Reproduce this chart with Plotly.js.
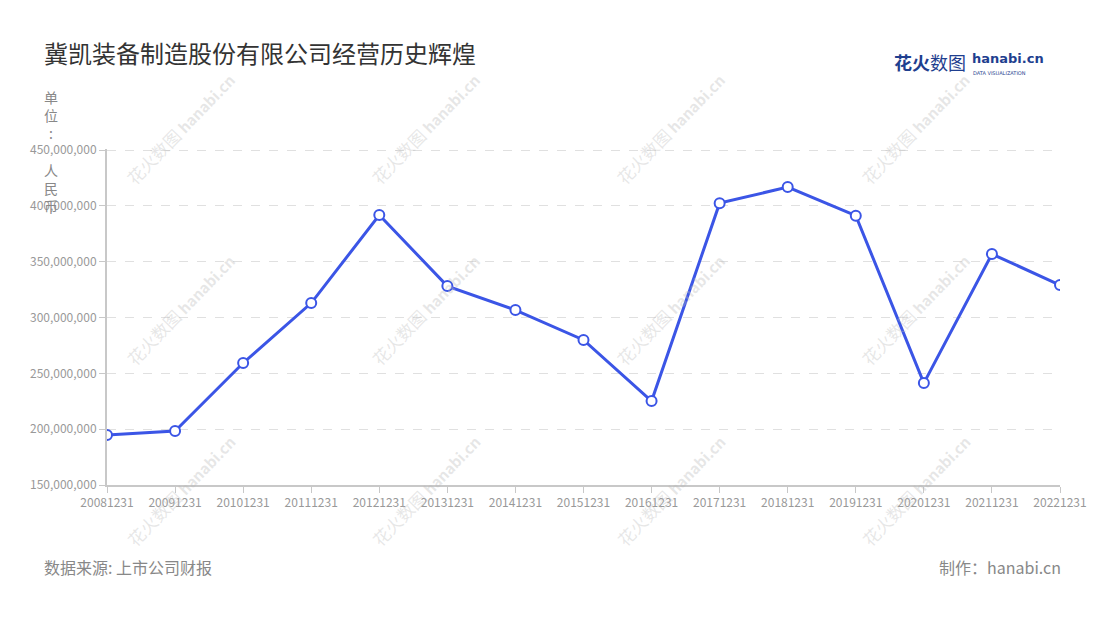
<!DOCTYPE html>
<html>
<head>
<meta charset="utf-8">
<script src="https://cdn.plot.ly/plotly-3.0.1.min.js"></script>
<style>html,body{margin:0;padding:0;background:#fff;}#chart{width:1100px;height:620px;}</style>
</head>
<body>
<div id="chart"></div>
<script>
const periods = ["20081231","20091231","20101231","20111231","20121231","20131231","20141231","20151231","20161231","20171231","20181231","20191231","20201231","20211231","20221231"];
const revenue = [194800000,198400000,259300000,313000000,391800000,328200000,306700000,279900000,225200000,402500000,416900000,391300000,241300000,356900000,329100000];
const yTicks = [150000000,200000000,250000000,300000000,350000000,400000000,450000000];
const titleText = "冀凯装备制造股份有限公司经营历史辉煌";
const unitText = "单位: 人民币";
const sourceText = "数据来源: 上市公司财报";
const makerText = "制作：hanabi.cn";

const FONT = "'Noto Sans CJK SC','Noto Sans',sans-serif";

const annotations = [];
// watermarks
const wmX = [0.077, 0.334, 0.591, 0.848];
const wmY = [1.06, 0.522, -0.015];
wmY.forEach(yy => {
  wmX.forEach(xx => {
    annotations.push({xref:'paper', yref:'paper', x:xx, y:yy, xanchor:'center', yanchor:'middle', text:'花火数图 <b style="font-size:15px">hanabi.cn</b>', showarrow:false, textangle:-46, font:{family:FONT, size:17, color:'rgba(185,185,185,0.35)'}});
  });
});
// unit label (vertical)
annotations.push({xref:'paper', yref:'paper', x:-0.059, y:1.19, xanchor:'center', yanchor:'top', text: unitText.split('').map(c => c === ' ' ? '&nbsp;' : c).join('<br>'), showarrow:false, align:'center', font:{family:FONT, size:14, color:'#888'}});
// footer
annotations.push({xref:'paper', yref:'paper', x:-0.068, y:-0.245, xanchor:'left', yanchor:'middle', text:sourceText, showarrow:false, font:{family:FONT, size:16, color:'#888'}});
annotations.push({xref:'paper', yref:'paper', x:1.003, y:-0.245, xanchor:'right', yanchor:'middle', text:makerText, showarrow:false, font:{family:FONT, size:16, color:'#888'}});
// logo
annotations.push({xref:'paper', yref:'paper', x:0.903, y:1.26, xanchor:'right', yanchor:'middle', text:'<b>花火</b>数图', showarrow:false, font:{family:FONT, size:18, color:'#1f3f8f'}});
annotations.push({xref:'paper', yref:'paper', x:0.906, y:1.27, xanchor:'left', yanchor:'middle', text:'<b>hanabi.cn</b>', showarrow:false, font:{family:"'DejaVu Sans',sans-serif", size:13, color:'#1f3f8f'}});
annotations.push({xref:'paper', yref:'paper', x:0.907, y:1.227, xanchor:'left', yanchor:'middle', text:'DATA VISUALIZATION', showarrow:false, font:{family:"'DejaVu Sans',sans-serif", size:5, color:'#1f3f8f'}});

const trace = {
  x: periods, y: revenue, type:'scatter', mode:'lines+markers',
  line:{color:'#3b55e6', width:3},
  marker:{size:10, color:'#ffffff', line:{color:'#3b55e6', width:2}},
  hoverinfo:'x+y'
};

const layout = {
  width:1100, height:620,
  paper_bgcolor:'#fff', plot_bgcolor:'#fff',
  margin:{l:107, r:40, t:149, b:135},
  showlegend:false,
  title:{text:titleText, x:0.04, xanchor:'left', y:0.912, yanchor:'middle', font:{family:FONT, size:24, color:'#333'}},
  xaxis:{type:'category', range:[0, periods.length-1], showgrid:false, showline:true, linecolor:'#c8c8c8', linewidth:2,
    ticks:'outside', ticklen:6, tickcolor:'#c8c8c8', tickwidth:1, tickfont:{family:FONT, size:12, color:'#999'}, zeroline:false, fixedrange:true},
  yaxis:{range:[150000000,451000000], tickvals:yTicks, tickformat:',d', showgrid:true, gridcolor:'#e0e0e0', griddash:'dash', gridwidth:1,
    showline:true, linecolor:'#c8c8c8', linewidth:2, ticks:'outside', ticklen:6, tickcolor:'#c8c8c8', tickfont:{family:FONT, size:12, color:'#999'}, zeroline:false, fixedrange:true},
  annotations: annotations
};
Plotly.newPlot('chart', [trace], layout, {displayModeBar:false, staticPlot:true});
</script>
</body>
</html>
